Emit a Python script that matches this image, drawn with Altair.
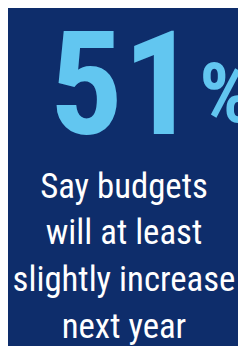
import altair as alt
import pandas as pd

value = ["51"]
unit = ["%"]
caption_lines = ["Say budgets", "will at least", "slightly increase", "next year"]

BG = "#0e2d6b"
BLUE = "#62c6f0"
FONT = "Roboto Condensed, DejaVu Sans Condensed, Roboto"

num_df = pd.DataFrame({"t": value})
unit_df = pd.DataFrame({"t": unit})
cap_df = pd.DataFrame({"t": caption_lines, "i": list(range(len(caption_lines)))})

num = alt.Chart(num_df).mark_text(
    font=FONT, fontWeight="bold",
    fontSize=150, color=BLUE, align="center", baseline="alphabetic"
).encode(text="t:N", x=alt.value(119), y=alt.value(125))

pct = alt.Chart(unit_df).mark_text(
    font=FONT, fontWeight="bold",
    fontSize=86, color=BLUE, align="left", baseline="alphabetic"
).encode(text="t:N", x=alt.value(198), y=alt.value(112))

cap = alt.Chart(cap_df).mark_text(
    font=FONT,
    fontSize=36, color="white", align="center", baseline="alphabetic"
).encode(
    text="t:N",
    x=alt.value(120),
    y=alt.Y("i:O", axis=None,
            scale=alt.Scale(type="point", range=[190.3, 335.5], padding=0)),
)

chart = alt.layer(num, pct, cap).properties(
    width=238, height=338, background=BG, padding=0,
    autosize=alt.AutoSizeParams(type="none")
).configure_view(strokeWidth=0)

chart.save("out.html", embed_options={"renderer": "svg", "actions": False})
